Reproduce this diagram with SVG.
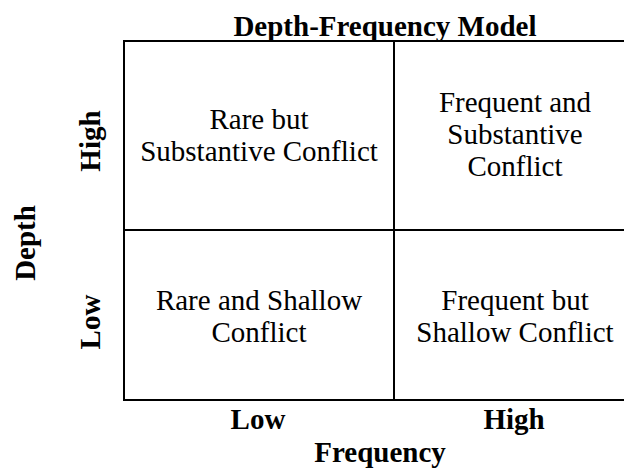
<svg xmlns="http://www.w3.org/2000/svg" width="624" height="468" viewBox="0 0 624 468">
<style>
text{font-family:"Liberation Serif","Times New Roman",serif;font-size:29px;fill:#000;text-anchor:middle}
.b{font-weight:bold}
.grid{stroke:#000;stroke-width:2;fill:none}
</style>
<rect x="0" y="0" width="624" height="468" fill="#fff"/>
<g id="title"><text class="b" x="385" y="36">Depth-Frequency Model</text></g>
<g id="grid" class="grid">
<path d="M630,41 H124 V400 H630"/>
<path d="M394,41 V400"/>
<path d="M124,230 H630"/>
</g>
<g id="cell-high-low"><text x="259" y="129">Rare but</text><text x="259" y="161">Substantive Conflict</text></g>
<g id="cell-high-high"><text x="515" y="112">Frequent and</text><text x="515" y="144">Substantive</text><text x="515" y="176">Conflict</text></g>
<g id="cell-low-low"><text x="259" y="310">Rare and Shallow</text><text x="259" y="342">Conflict</text></g>
<g id="cell-low-high"><text x="515" y="310">Frequent but</text><text x="515" y="342">Shallow Conflict</text></g>
<g id="x-axis"><text class="b" x="258" y="429">Low</text><text class="b" x="514" y="429">High</text><text class="b" x="380" y="462">Frequency</text></g>
<g id="y-axis"><text class="b" transform="translate(100,141) rotate(-90)">High</text><text class="b" transform="translate(100,322) rotate(-90)">Low</text><text class="b" transform="translate(35,243) rotate(-90)">Depth</text></g>
</svg>
